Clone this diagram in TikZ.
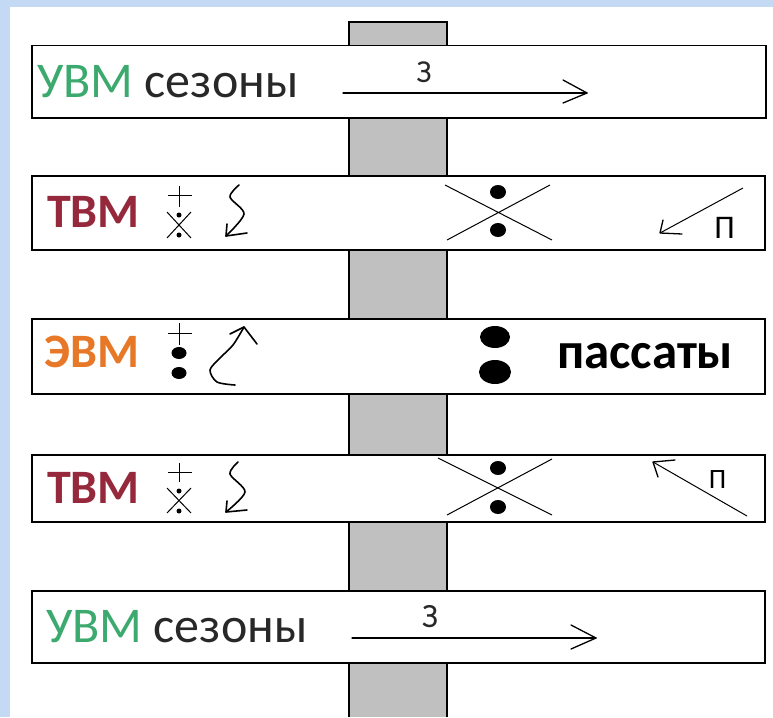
\documentclass[tikz,border=0pt]{standalone}
\usepackage{fontspec}
\setmainfont{Carlito}
\definecolor{bgblue}{RGB}{196,218,244}
\definecolor{uvm}{RGB}{60,170,110}
\definecolor{tvm}{RGB}{150,40,60}
\definecolor{evm}{RGB}{230,120,40}
\definecolor{txt}{RGB}{40,40,40}
\definecolor{pole}{RGB}{192,192,192}
\begin{document}
\begin{tikzpicture}[x=1pt,y=-1pt,
  band/.style={draw=black, line width=1.5pt, fill=white, inner sep=0pt, anchor=north west},
  lbl/.style={anchor=base west, inner sep=0pt, font=\fontsize{50}{52}\selectfont},
  blbl/.style={anchor=base west, inner sep=0pt, font=\fontsize{48}{50}\selectfont\bfseries},
  small/.style={anchor=base, inner sep=0pt},
  fine/.style={line width=1pt},
  sym/.style={line width=1.6pt, line cap=round, line join=round},
  arr/.style={line width=1.3pt, line cap=round}
]
\useasboundingbox (0,0) rectangle (773,717);
\fill[bgblue] (0,0) rectangle (773,717);
\fill[white] (10,7) rectangle (773,717);
% pole
\fill[pole] (349,22) rectangle (447,717);
\draw[line width=1.5pt] (349,717) -- (349,22) -- (447,22) -- (447,717);
% bands
\node[band, minimum width=734pt, minimum height=72pt] (b1) at (31,45) {};
\node[band, minimum width=733pt, minimum height=74pt] (b2) at (31,175) {};
\node[band, minimum width=733pt, minimum height=75pt] (b3) at (31,318) {};
\node[band, minimum width=733pt, minimum height=67pt] (b4) at (31,454) {};
\node[band, minimum width=733pt, minimum height=72pt] (b5) at (31,590) {};
% band 1
\node[lbl] (t1) at (37,97) {\textcolor{uvm}{УВМ} \textcolor{txt}{сезоны}};
\coordinate (a1s) at (343,93);
\coordinate (a1e) at (587,93);
\draw[arr] (a1s) -- (a1e);
\draw[arr] (a1e) -- ++(-24,-13) (a1e) -- ++(-24,10);
\node[small, font=\fontsize{32}{34}\selectfont, text=txt] (z1) at (424,82) {З};
% band 2
\node[blbl, text=tvm] (t2) at (47,227) {ТВМ};
\draw[fine] (168,195) -- (192,195) (179,186) -- (179,207);
\draw[fine] (167,212) -- (191,238) (167,238) -- (191,212);
\fill (179,215) circle (2.5);
\fill (179,235) circle (2.5);
\draw[sym] plot[smooth] coordinates {(239,185) (230,197) (244,214) (226,236)};
\coordinate (q2) at (226,236);
\draw[sym] (q2) -- (227,224) (q2) -- (247,233);
\coordinate (x2a) at (445,185); \coordinate (x2b) at (552,240);
\coordinate (x2c) at (447,240); \coordinate (x2d) at (550,185);
\draw[fine] (x2a) -- (x2b) (x2c) -- (x2d);
\fill (498,192) ellipse [x radius=8, y radius=7];
\fill (498,230) ellipse [x radius=8, y radius=7];
\coordinate (p2s) at (743,188); \coordinate (p2e) at (660,233);
\draw[fine] (p2s) -- (p2e);
\draw[arr] (p2e) -- (663,220) (p2e) -- (682,234);
\node[small, font=\fontsize{33}{35}\selectfont] (n2) at (724.5,238) {П};
% band 3
\node[blbl, text=evm] (t3) at (44,367) {ЭВМ};
\draw[fine] (168,333) -- (192,333) (179,323) -- (179,345);
\fill (179,353) ellipse [x radius=7.5, y radius=6];
\fill (179,373) ellipse [x radius=7.5, y radius=6];
\draw[sym] plot[smooth] coordinates {(235,385) (217,382) (210,370) (220,358) (233,345) (244,327)};
\coordinate (q3) at (244,327);
\draw[sym] (q3) -- (230,334) (q3) -- (257,344);
\fill (495,337) ellipse [x radius=15, y radius=11];
\fill (495,372) ellipse [x radius=16, y radius=12];
\node[blbl, font=\fontsize{51}{53}\selectfont\bfseries] (pas) at (557,368) {пассаты};
% band 4
\node[blbl, text=tvm] (t4) at (47,503) {ТВМ};
\draw[fine] (168,472) -- (192,472) (179,463) -- (179,482);
\draw[fine] (167,488) -- (191,513) (167,513) -- (191,488);
\fill (179,491) circle (2.5);
\fill (179,511) circle (2.5);
\draw[sym] plot[smooth] coordinates {(238,462) (230,474) (245,492) (226,512)};
\coordinate (q4) at (226,512);
\draw[sym] (q4) -- (227,501) (q4) -- (247,510);
\coordinate (x4a) at (438,458); \coordinate (x4b) at (552,515);
\coordinate (x4c) at (447,515); \coordinate (x4d) at (552,459);
\draw[fine] (x4a) -- (x4b) (x4c) -- (x4d);
\fill (498,468) ellipse [x radius=8, y radius=7];
\fill (498,507) ellipse [x radius=8, y radius=7];
\coordinate (p4s) at (747,516); \coordinate (p4e) at (653,462);
\draw[fine] (p4s) -- (p4e);
\draw[arr] (p4e) -- (675,460) (p4e) -- (658,477);
\node[small, font=\fontsize{28}{30}\selectfont] (n4) at (717.5,488) {П};
% band 5
\node[lbl] (t5) at (46,642) {\textcolor{uvm}{УВМ} \textcolor{txt}{сезоны}};
\coordinate (a5s) at (352,638);
\coordinate (a5e) at (596,638);
\draw[arr] (a5s) -- (a5e);
\draw[arr] (a5e) -- ++(-25,-13) (a5e) -- ++(-25,11);
\node[small, font=\fontsize{34}{36}\selectfont, text=txt] (z5) at (430,627) {З};
\end{tikzpicture}
\end{document}
